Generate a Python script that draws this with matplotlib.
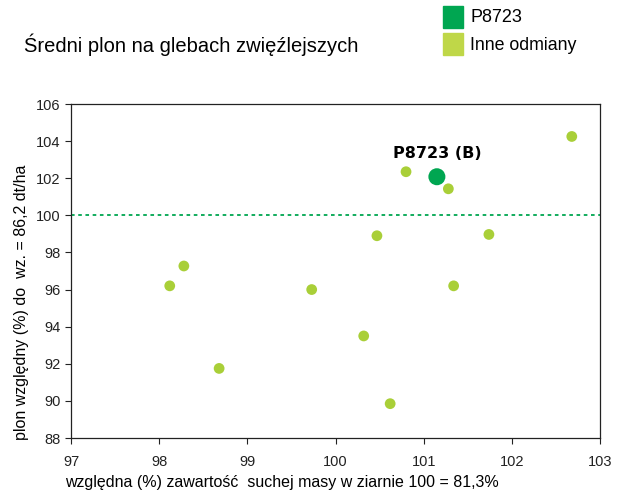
import matplotlib
matplotlib.use("Agg")
import matplotlib.pyplot as plt
from matplotlib.patches import Rectangle

plt.rcParams['font.family'] = ['Liberation Sans', 'DejaVu Sans']

# względna zawartość suchej masy (%) i plon względny (%)
inne_x = [98.12, 98.28, 98.68, 99.73, 100.32, 100.47, 100.62, 100.80, 101.28, 101.34, 101.74, 102.68]
inne_y = [96.2, 97.27, 91.75, 96.0, 93.5, 98.9, 89.85, 102.35, 101.43, 96.2, 98.97, 104.25]
p8723_x = [101.15]
p8723_y = [102.08]

dark_green = '#00A651'
light_green = '#A9CF38'
legend_light = '#BFD748'

fig = plt.figure(figsize=(6.23, 4.95), dpi=100)
ax = fig.add_axes([71/623, 1-438/495, 529/623, 334/495])

ax.scatter(inne_x, inne_y, s=60, color=light_green, edgecolors='none', zorder=3)
ax.scatter(p8723_x, p8723_y, s=150, color=dark_green, edgecolors='none', zorder=4)
ax.text(p8723_x[0], p8723_y[0] + 0.85, 'P8723 (B)', ha='center', va='bottom',
        fontsize=11.5, fontweight='bold', family=['DejaVu Sans'])
ax.axhline(100, color=dark_green, linestyle=(0, (2, 2)), linewidth=1.3, zorder=2)

ax.set_xlim(97, 103)
ax.set_ylim(88, 106)
ax.set_xticks(range(97, 104))
ax.set_yticks(range(88, 107, 2))
ax.tick_params(direction='out', length=4, width=0.8, labelsize=10.5, colors='#222222')
ax.tick_params(axis='x', pad=8)
for s in ax.spines.values():
    s.set_linewidth(0.9)
    s.set_color('#222222')

# opisy osi
fig.text(65/623, 1-482/495, 'względna (%) zawartość  suchej masy w ziarnie 100 = 81,3%',
         fontsize=11.5, ha='left', va='center')
fig.text(22/623, 1-302/495, 'plon względny (%) do  wz. = 86,2 dt/ha',
         fontsize=11.5, rotation=90, ha='center', va='center')

fig.text(24/623, 1-45/495, 'Średni plon na glebach zwięźlejszych', fontsize=14.5, va='center', ha='left')

# legenda
fig.add_artist(Rectangle((443/623, 1-28/495), 20/623, 22/495, transform=fig.transFigure, color=dark_green))
fig.add_artist(Rectangle((443/623, 1-55/495), 20/623, 22/495, transform=fig.transFigure, color=legend_light))
fig.text(470/623, 1-18/495, 'P8723', fontsize=13, va='center')
fig.text(470/623, 1-46/495, 'Inne odmiany', fontsize=12.8, va='center')

fig.savefig('out.png', dpi=100)
